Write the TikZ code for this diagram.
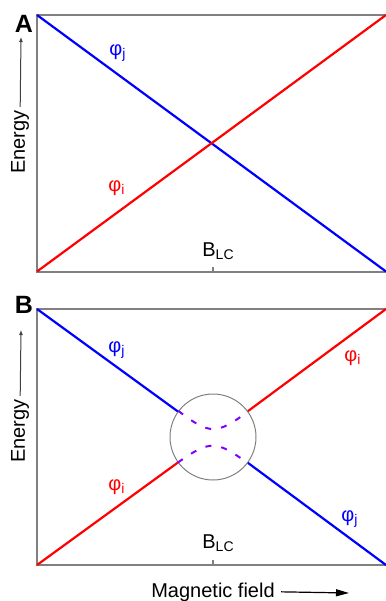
\documentclass[tikz,border=0pt]{standalone}
\usepackage{fontspec}
\setmainfont{Liberation Sans}
\usepackage{xcolor}
\usetikzlibrary{arrows.meta}

\definecolor{mixcol}{RGB}{128,0,255}

\begin{document}
\begin{tikzpicture}[
    x=0.5pt, y=-0.5pt,
    frame/.style={draw=gray, line width=1pt},
    level/.style={line width=1.1pt},
    avoided/.style={draw=mixcol, line width=1pt, dash pattern=on 3pt off 5pt},
    txt/.style={font=\fontsize{10}{12}\selectfont, inner sep=0pt},
    panel/.style={font=\fontsize{12.5}{14}\selectfont\bfseries, inner sep=0pt, anchor=base},
    axisarrow/.style={draw=black!75, line width=0.5pt, -{Latex[length=2.5pt,width=2pt]}},
    fieldarrow/.style={draw=black, line width=0.6pt, -{Triangle[length=6.5pt,width=3.5pt]}}
]
    \useasboundingbox (0,0) rectangle (386,601);

    % panel A
    \coordinate (A-tl) at (37,15);
    \coordinate (A-tr) at (386,15);
    \coordinate (A-bl) at (37,271.5);
    \coordinate (A-br) at (386,271.5);
    \coordinate (A-tick) at (213,271.5);
    \draw [frame] (A-tr) -- (A-tl) -- (A-bl) -- (A-br);
    \draw [frame] (A-tick) -- ++(0,-5);
    \draw [level, blue] (A-tl) -- (A-br);
    \draw [level, red] (A-bl) -- (A-tr);

    \node [panel] (A-name) at (24,32) {A};
    \node [txt, blue] (A-phij) at (118,53) {φ\textsubscript{j}};
    \node [txt, red] (A-phii) at (117,188) {φ\textsubscript{i}};
    \node [txt, anchor=base west] (A-blc) at (202,256) {B\textsubscript{LC}};
    \node [txt, rotate=90, anchor=base] (A-energy) at (25,142) {Energy};
    \coordinate (A-up) at (21,37);
    \draw [axisarrow] (A-energy.east) ++(0,-3) coordinate (A-from) (A-from) -- (A-up);

    % panel B
    \coordinate (B-tl) at (37,309);
    \coordinate (B-tr) at (386,309);
    \coordinate (B-bl) at (37,565);
    \coordinate (B-br) at (386,565);
    \coordinate (B-tick) at (213,565);
    \draw [frame] (B-tr) -- (B-tl) -- (B-bl) -- (B-br);
    \draw [frame] (B-tick) -- ++(0,-5);

    \node [draw=gray, line width=0.5pt, circle, minimum size=43pt, inner sep=0pt] (gap) at (213,437) {};
    \draw [level, blue] (B-tl) -- (gap);
    \draw [level, blue] (gap) -- (B-br);
    \draw [level, red] (B-bl) -- (gap);
    \draw [level, red] (gap) -- (B-tr);
    \draw [avoided] (gap.143.9) .. controls (210,435) and (216,435) .. (gap.36.1);
    \draw [avoided] (gap.216.1) .. controls (210,440) and (216,440) .. (gap.323.9);

    \node [panel] (B-name) at (24,313) {B};
    \node [txt, blue] (B-phij) at (117,350) {φ\textsubscript{j}};
    \node [txt, red] (B-phii) at (117,487) {φ\textsubscript{i}};
    \node [txt, red] (B-phii2) at (353,358) {φ\textsubscript{i}};
    \node [txt, blue] (B-phij2) at (350,519) {φ\textsubscript{j}};
    \node [txt, anchor=base west] (B-blc) at (202,548) {B\textsubscript{LC}};
    \node [txt, rotate=90, anchor=base] (B-energy) at (25,431) {Energy};
    \coordinate (B-up) at (21,330);
    \draw [axisarrow] (B-energy.east) ++(0,-3) coordinate (B-from) (B-from) -- (B-up);

    % field axis
    \node [txt, anchor=base] (field) at (213,597) {Magnetic field};
    \coordinate (field-end) at (349,593);
    \draw [fieldarrow] (field.east) ++(6,0) coordinate (field-from) (field-from) -- (field-end);
\end{tikzpicture}
\end{document}
